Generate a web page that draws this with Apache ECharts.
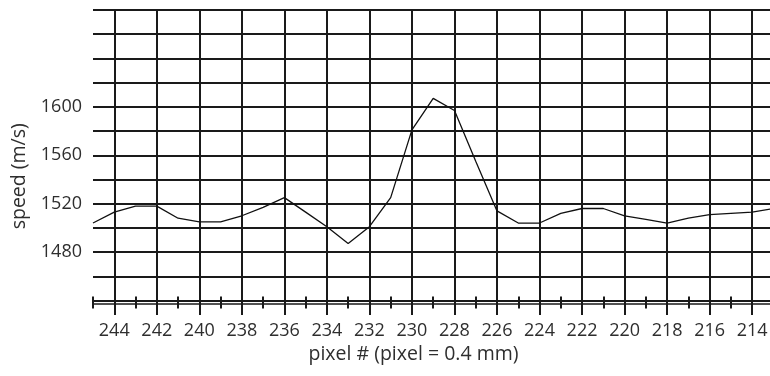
<!DOCTYPE html>
<html>
<head>
<meta charset="utf-8">
<title>speed vs pixel</title>
<style>
  html, body { margin: 0; padding: 0; background: #fff; }
  #chart { width: 770px; height: 376px; }
</style>
<script src="https://cdn.jsdelivr.net/npm/echarts@6/dist/echarts.min.js"></script>
</head>
<body>
<div id="chart"></div>
<script>
const pixelNo = [245, 244, 243, 242, 241, 240, 239, 238, 237, 236, 235, 234, 233, 232, 231, 230, 229,
                 228, 227, 226, 225, 224, 223, 222, 221, 220, 219, 218, 217, 216, 215, 214, 213];
const speed = [1504, 1513, 1518, 1518, 1508, 1505, 1505, 1510, 1517, 1525, 1513, 1501, 1487, 1501, 1525, 1581, 1607,
               1597, 1555, 1514, 1504, 1504, 1512, 1516, 1516, 1510, 1507, 1504, 1508, 1511, 1512, 1513, 1516];

// axis ticks
const majorTicks = [244, 242, 240, 238, 236, 234, 232, 230, 228, 226, 224, 222, 220, 218, 216, 214];
const minorTicks = [245, 243, 241, 239, 237, 235, 233, 231, 229, 227, 225, 223, 221, 219, 217, 215];
const speedLabels = [1480, 1520, 1560, 1600];

const chart = echarts.init(document.getElementById("chart"), null, { renderer: "canvas" });

const ink = "#1a1a1a";
const textColor = "#2e2e2e";
const font = "Open Sans";
const xMin = 213.16, xMax = 245;

chart.setOption({
  backgroundColor: "#fff",
  animation: false,
  // the plot is cut off at the right edge, so let the labels overflow
  grid: { left: 93, right: 0, top: 10, bottom: 75.5, containLabel: false, outerBoundsMode: "none" },
  xAxis: [
    {
      type: "value",
      min: xMin,
      max: xMax,
      inverse: true,
      position: "bottom",
      name: "pixel # (pixel = 0.4 mm)",
      nameLocation: "middle",
      nameGap: 42,
      nameTextStyle: { fontFamily: font, fontSize: 19.5, color: textColor, padding: [0, 36, 0, 0] },
      axisLine: { show: true, lineStyle: { color: ink, width: 1.5 } },
      axisTick: { show: true, customValues: majorTicks, length: 14.5, lineStyle: { color: ink, width: 2 } },
      axisLabel: { customValues: majorTicks, margin: 21, fontFamily: font, fontSize: 18, color: textColor },
      splitLine: { show: true, lineStyle: { color: ink, width: 2 } }
    },
    {
      // second line of the double axis
      type: "value", min: xMin, max: xMax, inverse: true, position: "bottom", offset: 3,
      axisLine: { show: true, lineStyle: { color: ink, width: 1.5 } },
      axisTick: { show: false }, axisLabel: { show: false }, splitLine: { show: false }
    },
    {
      // short ticks at odd pixel numbers
      type: "value", min: xMin, max: xMax, inverse: true, position: "bottom", offset: -4,
      axisLine: { show: false },
      axisTick: { show: true, customValues: minorTicks, length: 12, lineStyle: { color: ink, width: 2 } },
      axisLabel: { show: false }, splitLine: { show: false }
    }
  ],
  yAxis: {
    type: "value",
    min: 1440,
    max: 1680,
    interval: 20,
    name: "speed (m/s)",
    nameLocation: "middle",
    nameRotate: 90,
    nameGap: 63,
    nameTextStyle: { fontFamily: font, fontSize: 19.5, color: textColor, padding: [0, 42, 0, 0] },
    axisLine: { show: false },
    axisTick: { show: false },
    axisLabel: {
      margin: 11,
      fontFamily: font,
      fontSize: 18,
      color: textColor,
      formatter: v => (speedLabels.includes(v) ? String(v) : "")
    },
    splitLine: { show: true, lineStyle: { color: ink, width: 2 } }
  },
  series: [
    {
      type: "line",
      xAxisIndex: 0,
      data: pixelNo.map((p, i) => [p, speed[i]]),
      showSymbol: false,
      lineStyle: { color: "#111", width: 1.3 },
      clip: true
    }
  ]
});
</script>
</body>
</html>
